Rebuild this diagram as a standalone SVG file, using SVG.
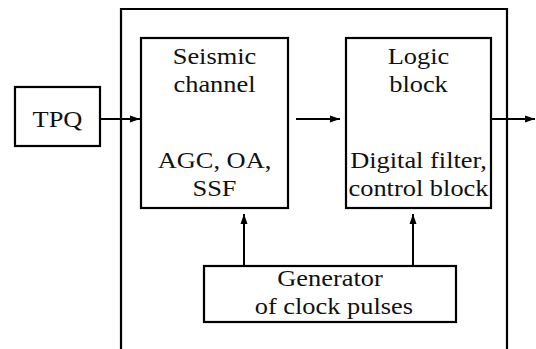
<svg xmlns="http://www.w3.org/2000/svg" width="536" height="349" viewBox="0 0 536 349">
<style>
.box{fill:#fff;stroke:#000;stroke-width:2.2}
.frame{fill:none;stroke:#000;stroke-width:2.2}
.t{font-family:'Liberation Serif',Tinos,'Times New Roman','DejaVu Serif',serif;font-size:24px;fill:#111;text-anchor:middle}
.c{stroke:#000;stroke-width:2;fill:none}
</style>
<defs>
<marker id="ah" viewBox="0 0 10 10" refX="10" refY="5" markerWidth="10" markerHeight="10" markerUnits="userSpaceOnUse" orient="auto">
<path d="M0,1.5 L10,5 L0,8.5 z" fill="#000"/>
</marker>
</defs>
<rect width="536" height="349" fill="#fff"/>
<g id="frame"><path class="frame" d="M121,349 V9 H507 V349"/></g>
<g id="tpq"><rect class="box" x="15" y="87" width="85" height="59"/><text class="t" transform="translate(57.5,127) scale(1.1,1)">TPQ</text></g>
<g id="seismic"><rect class="box" x="141" y="38" width="147" height="170"/>
<g transform="translate(214.5,0) scale(1.1,1)">
<text class="t" x="0" y="64">Seismic</text><text class="t" x="0" y="91.6">channel</text>
<text class="t" x="0" y="168">AGC, OA,</text><text class="t" x="0" y="195.6">SSF</text></g></g>
<g id="logic"><rect class="box" x="346" y="38" width="145" height="170"/>
<g transform="translate(418.5,0) scale(1.1,1)">
<text class="t" x="0" y="64">Logic</text><text class="t" x="0" y="91.6">block</text>
<text class="t" x="0" y="168">Digital filter,</text><text class="t" x="0" y="195.6">control block</text></g></g>
<g id="generator"><rect class="box" x="204" y="266" width="252" height="56"/>
<g transform="translate(330,0) scale(1.1,1)">
<text class="t" x="0" y="286">Generator</text><text class="t" x="3.5" y="313.6">of clock pulses</text></g></g>
<g id="connectors">
<line class="c" x1="100" y1="119" x2="140" y2="119" marker-end="url(#ah)"/>
<line class="c" x1="296" y1="119" x2="340" y2="119" marker-end="url(#ah)"/>
<line class="c" x1="491" y1="119" x2="535" y2="119" marker-end="url(#ah)"/>
<line class="c" x1="244" y1="266" x2="244" y2="214" marker-end="url(#ah)"/>
<line class="c" x1="413" y1="266" x2="413" y2="214" marker-end="url(#ah)"/>
</g>
</svg>
